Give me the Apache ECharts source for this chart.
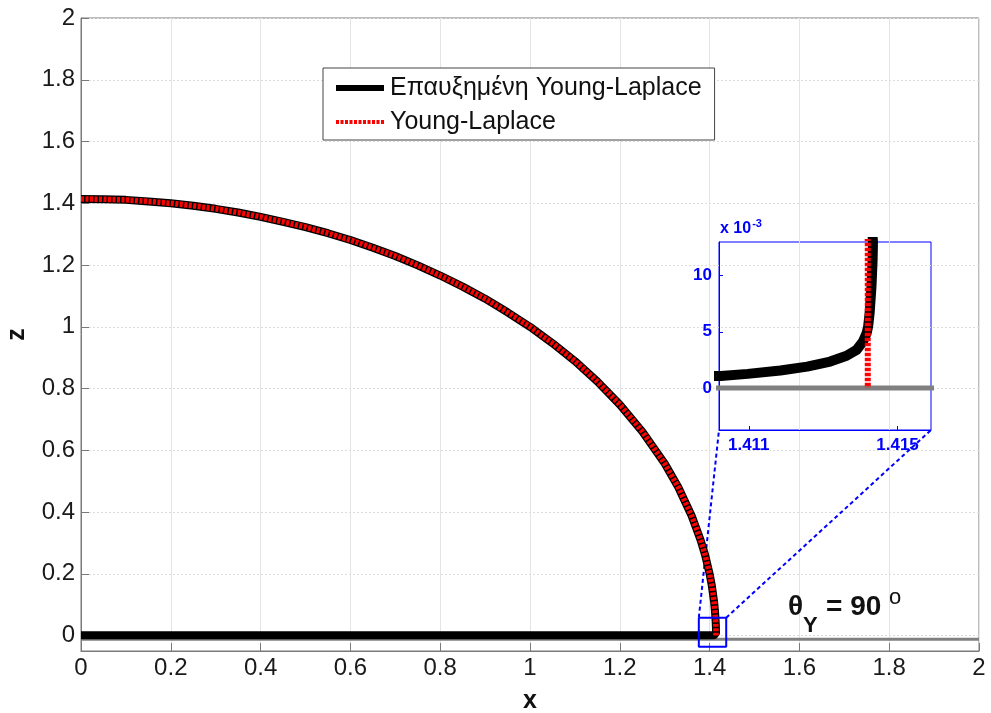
<!DOCTYPE html>
<html><head><meta charset="utf-8">
<script src="https://cdn.jsdelivr.net/npm/echarts@6/dist/echarts.min.js"></script>
<style>html,body{margin:0;padding:0;background:#fff}#c{width:991px;height:713px}</style>
</head><body><div id="c"></div>
<script>
const FONT = '"Liberation Sans", Arial, Helvetica, sans-serif';
const seriesNames = ['Επαυξημένη Young-Laplace', 'Young-Laplace'];

// Augmented Young-Laplace profile (film + contact region + drop), [x, z]
const augmentedX = [0, 0.5, 1.0, 1.3, 1.405, 1.41025, 1.41097, 1.41185, 1.41257, 1.41319, 1.41363, 1.41390, 1.41407, 1.41417, 1.41421, 1.41425, 1.41430, 1.41433, 1.41434, 1.41420, 1.41400, 1.4135, 1.412, 1.41, 1.405, 1.40, 1.39, 1.38, 1.36, 1.33, 1.30, 1.25, 1.20, 1.15, 1.10, 1.05, 1.00, 0.95, 0.90, 0.85, 0.80, 0.75, 0.70, 0.65, 0.60, 0.55, 0.50, 0.45, 0.40, 0.35, 0.30, 0.25, 0.20, 0.15, 0.10, 0.05, 0];
const augmentedZ = [0.001, 0.001, 0.001, 0.001, 0.00102, 0.00107, 0.00125, 0.00155, 0.0019, 0.00235, 0.00286, 0.00339, 0.00413, 0.00488, 0.00547, 0.00667, 0.00904, 0.0114, 0.013, 0.02, 0.03, 0.045, 0.079, 0.109, 0.161, 0.200, 0.261, 0.309, 0.388, 0.481, 0.557, 0.661, 0.748, 0.823, 0.889, 0.947, 1.000, 1.047, 1.091, 1.130, 1.166, 1.199, 1.229, 1.256, 1.281, 1.303, 1.323, 1.340, 1.356, 1.370, 1.382, 1.392, 1.400, 1.406, 1.411, 1.413, 1.414];

// Classic Young-Laplace profile, [x, z]
const ylX = [0, 0.05, 0.10, 0.15, 0.20, 0.25, 0.30, 0.35, 0.40, 0.45, 0.50, 0.55, 0.60, 0.65, 0.70, 0.75, 0.80, 0.85, 0.90, 0.95, 1.00, 1.05, 1.10, 1.15, 1.20, 1.25, 1.30, 1.33, 1.36, 1.38, 1.39, 1.40, 1.405, 1.41, 1.412, 1.4135, 1.41395, 1.4141, 1.4142, 1.4142];
const ylZ = [1.414, 1.413, 1.411, 1.406, 1.400, 1.392, 1.382, 1.370, 1.356, 1.340, 1.323, 1.303, 1.281, 1.256, 1.229, 1.199, 1.166, 1.130, 1.091, 1.047, 1.000, 0.947, 0.889, 0.823, 0.748, 0.661, 0.557, 0.481, 0.388, 0.309, 0.261, 0.200, 0.161, 0.109, 0.079, 0.045, 0.030, 0.020, 0.013, 0];

// Substrate
const substrateX = [0, 2];
const substrateMainZ = [-0.012, -0.012];
const substrateInsetZ = [0, 0];

// Zoom box on the main axes
const zoomBoxX = [1.376, 1.437];
const zoomBoxZ = [-0.036, 0.058];

// Axes
const mainXRange = [0, 2];
const mainZRange = [-0.05, 2];
const mainTickStep = 0.2;
const insetXRange = [1.4102, 1.4159];
const insetZRange = [-0.00375, 0.013];
const insetXTicks = [1.411, 1.415];
const insetZTicks = [0, 0.005, 0.01];
const insetZScale = 1e-3;

const zip = (xs, zs) => xs.map((x, i) => [x, zs[i]]);
const boxData = [[zoomBoxX[0], zoomBoxZ[1]], [zoomBoxX[1], zoomBoxZ[1]], [zoomBoxX[1], zoomBoxZ[0]], [zoomBoxX[0], zoomBoxZ[0]], [zoomBoxX[0], zoomBoxZ[1]]];

const chart = echarts.init(document.getElementById('c'), null, {renderer: 'canvas'});
const BLUE = '#0000ff';
const axisGray = '#7a7a7a';

const option = {
  animation: false,
  backgroundColor: '#fff',
  textStyle: {fontFamily: FONT},
  grid: [
    {left: 81, top: 18, right: 12, bottom: 62, show: true, borderColor: axisGray, borderWidth: 1, backgroundColor: 'transparent', containLabel: false, outerBoundsMode: 'none'},
    {left: 719, top: 242, width: 212, height: 188, show: true, borderColor: BLUE, borderWidth: 1, backgroundColor: 'transparent', containLabel: false, outerBoundsMode: 'none'}
  ],
  legend: {
    data: [
      {name: seriesNames[0], lineStyle: {width: 6, color: '#000'}},
      {name: seriesNames[1], lineStyle: {width: 4, color: '#ff0000', type: [3, 1.5]}}
    ],
    itemStyle: {opacity: 0},
    orient: 'vertical', left: 323, top: 68,
    padding: [6, 13, 4, 10], itemGap: 6, itemWidth: 48, itemHeight: 20,
    backgroundColor: '#fff', borderColor: '#444', borderWidth: 1, borderRadius: 0,
    textStyle: {fontFamily: FONT, fontSize: 25, lineHeight: 28, color: '#111', padding: [0, 0, 0, 1]},
    selectedMode: false
  },
  xAxis: [
    {
      gridIndex: 0, type: 'value', min: mainXRange[0], max: mainXRange[1], interval: mainTickStep,
      name: 'x', nameLocation: 'middle', nameGap: 38,
      nameTextStyle: {fontFamily: FONT, fontSize: 25, fontWeight: 'bold', color: '#111'},
      axisLine: {show: true, onZero: false, lineStyle: {color: axisGray, width: 1}},
      axisTick: {show: true, inside: true, length: 8, lineStyle: {color: axisGray}},
      axisLabel: {fontFamily: FONT, fontSize: 24, color: '#1a1a1a', margin: 5},
      splitLine: {show: true, lineStyle: {color: '#e4e4e4', width: 1}}
    },
    {
      gridIndex: 1, type: 'value', min: insetXRange[0], max: insetXRange[1],
      axisLine: {show: true, onZero: false, lineStyle: {color: BLUE, width: 1}},
      axisTick: {show: true, inside: true, length: 4, customValues: insetXTicks, lineStyle: {color: BLUE}},
      axisLabel: {customValues: insetXTicks, fontFamily: FONT, fontSize: 17, fontWeight: 'bold', color: BLUE, margin: 7,
        formatter: v => v.toFixed(3)},
      splitLine: {show: false}
    }
  ],
  yAxis: [
    {
      gridIndex: 0, type: 'value', min: mainZRange[0], max: mainZRange[1], splitNumber: 10,
      name: 'z', nameLocation: 'middle', nameGap: 51,
      nameTextStyle: {fontFamily: FONT, fontSize: 25, fontWeight: 'bold', color: '#111'},
      axisLine: {show: true, onZero: false, lineStyle: {color: axisGray, width: 1}},
      axisTick: {show: true, inside: true, length: 8, lineStyle: {color: axisGray}},
      axisLabel: {fontFamily: FONT, fontSize: 24, color: '#1a1a1a', margin: 6, showMinLabel: false,
        formatter: v => (v < -1e-9 ? '' : String(Math.round(v * 10) / 10))},
      splitLine: {show: true, lineStyle: {color: '#dcdcdc', width: 1, type: [2, 2]}}
    },
    {
      gridIndex: 1, type: 'value', min: insetZRange[0], max: insetZRange[1],
      axisLine: {show: true, onZero: false, lineStyle: {color: BLUE, width: 1}},
      axisTick: {show: true, inside: true, length: 4, customValues: insetZTicks, lineStyle: {color: BLUE}},
      axisLabel: {customValues: insetZTicks, fontFamily: FONT, fontSize: 17, fontWeight: 'bold', color: BLUE, margin: 7,
        formatter: v => String(Math.round(v / insetZScale))},
      splitLine: {show: false}
    }
  ],
  series: [
    {name: 'substrate', type: 'line', xAxisIndex: 0, yAxisIndex: 0, data: zip(substrateX, substrateMainZ),
      symbol: 'none', lineStyle: {color: '#808080', width: 3}, z: 1},
    {name: seriesNames[0], type: 'line', xAxisIndex: 0, yAxisIndex: 0, data: zip(augmentedX, augmentedZ),
      symbol: 'none', itemStyle: {color: '#000'}, lineStyle: {color: '#000', width: 8, cap: 'butt', join: 'round'}, z: 3},
    {name: seriesNames[1], type: 'line', xAxisIndex: 0, yAxisIndex: 0, data: zip(ylX, ylZ),
      symbol: 'none', itemStyle: {color: '#ff0000'}, lineStyle: {color: '#ff0000', width: 5.5, type: [3, 1.5], cap: 'butt'}, z: 4},
    {name: 'zoombox', type: 'line', xAxisIndex: 0, yAxisIndex: 0, data: boxData,
      symbol: 'none', lineStyle: {color: BLUE, width: 2}, z: 5},
    {name: 'substrate-inset', type: 'line', xAxisIndex: 1, yAxisIndex: 1, data: zip(substrateX, substrateInsetZ),
      symbol: 'none', lineStyle: {color: '#808080', width: 5}, z: 1},
    {name: seriesNames[0], type: 'line', xAxisIndex: 1, yAxisIndex: 1, data: zip(augmentedX, augmentedZ),
      symbol: 'none', itemStyle: {color: '#000'}, lineStyle: {color: '#000', width: 10, cap: 'butt', join: 'round'}, z: 3},
    {name: seriesNames[1], type: 'line', xAxisIndex: 1, yAxisIndex: 1, data: zip(ylX, ylZ),
      symbol: 'none', itemStyle: {color: '#ff0000'}, lineStyle: {color: '#ff0000', width: 6, type: [3.5, 1.5], cap: 'butt'}, z: 4}
  ]
};
chart.setOption(option);

const pTL = chart.convertToPixel({gridIndex: 0}, [zoomBoxX[0], zoomBoxZ[1]]);
const pTR = chart.convertToPixel({gridIndex: 0}, [zoomBoxX[1], zoomBoxZ[1]]);
const iBL = chart.convertToPixel({gridIndex: 1}, [insetXRange[0], insetZRange[0]]);
const iBR = chart.convertToPixel({gridIndex: 1}, [insetXRange[1], insetZRange[0]]);
const iTL = chart.convertToPixel({gridIndex: 1}, [insetXRange[0], insetZRange[1]]);

const dashStyle = {stroke: BLUE, lineWidth: 2, lineDash: [4, 3]};
chart.setOption({
  graphic: [
    {type: 'line', shape: {x1: pTL[0], y1: pTL[1], x2: iBL[0], y2: iBL[1]}, style: dashStyle, z: 1, silent: true},
    {type: 'line', shape: {x1: pTR[0], y1: pTR[1], x2: iBR[0], y2: iBR[1]}, style: dashStyle, z: 1, silent: true},
    {type: 'text', x: iTL[0] + 1, y: iTL[1] - 13, silent: true,
      style: {text: '{a|x 10}{s|-3}', fill: BLUE, verticalAlign: 'middle', align: 'left',
        rich: {a: {fontFamily: FONT, fontSize: 16, fontWeight: 'bold', fill: BLUE},
               s: {fontFamily: FONT, fontSize: 11, fontWeight: 'bold', fill: BLUE, padding: [0, 0, 11, 1]}}}},
    {type: 'text', x: 788, y: 607, silent: true,
      style: {text: 'θ', fontFamily: FONT, fontSize: 28, fontWeight: 'bold', fill: '#111', verticalAlign: 'middle', align: 'left'}},
    {type: 'text', x: 803, y: 626, silent: true,
      style: {text: 'Y', fontFamily: FONT, fontSize: 22, fontWeight: 'bold', fill: '#111', verticalAlign: 'middle', align: 'left'}},
    {type: 'text', x: 826, y: 607, silent: true,
      style: {text: '= 90', fontFamily: FONT, fontSize: 28, fontWeight: 'bold', fill: '#111', verticalAlign: 'middle', align: 'left'}},
    {type: 'text', x: 889, y: 598, silent: true,
      style: {text: 'o', fontFamily: FONT, fontSize: 22, fontWeight: 'normal', fill: '#111', verticalAlign: 'middle', align: 'left'}}
  ]
});
</script>
</body></html>
